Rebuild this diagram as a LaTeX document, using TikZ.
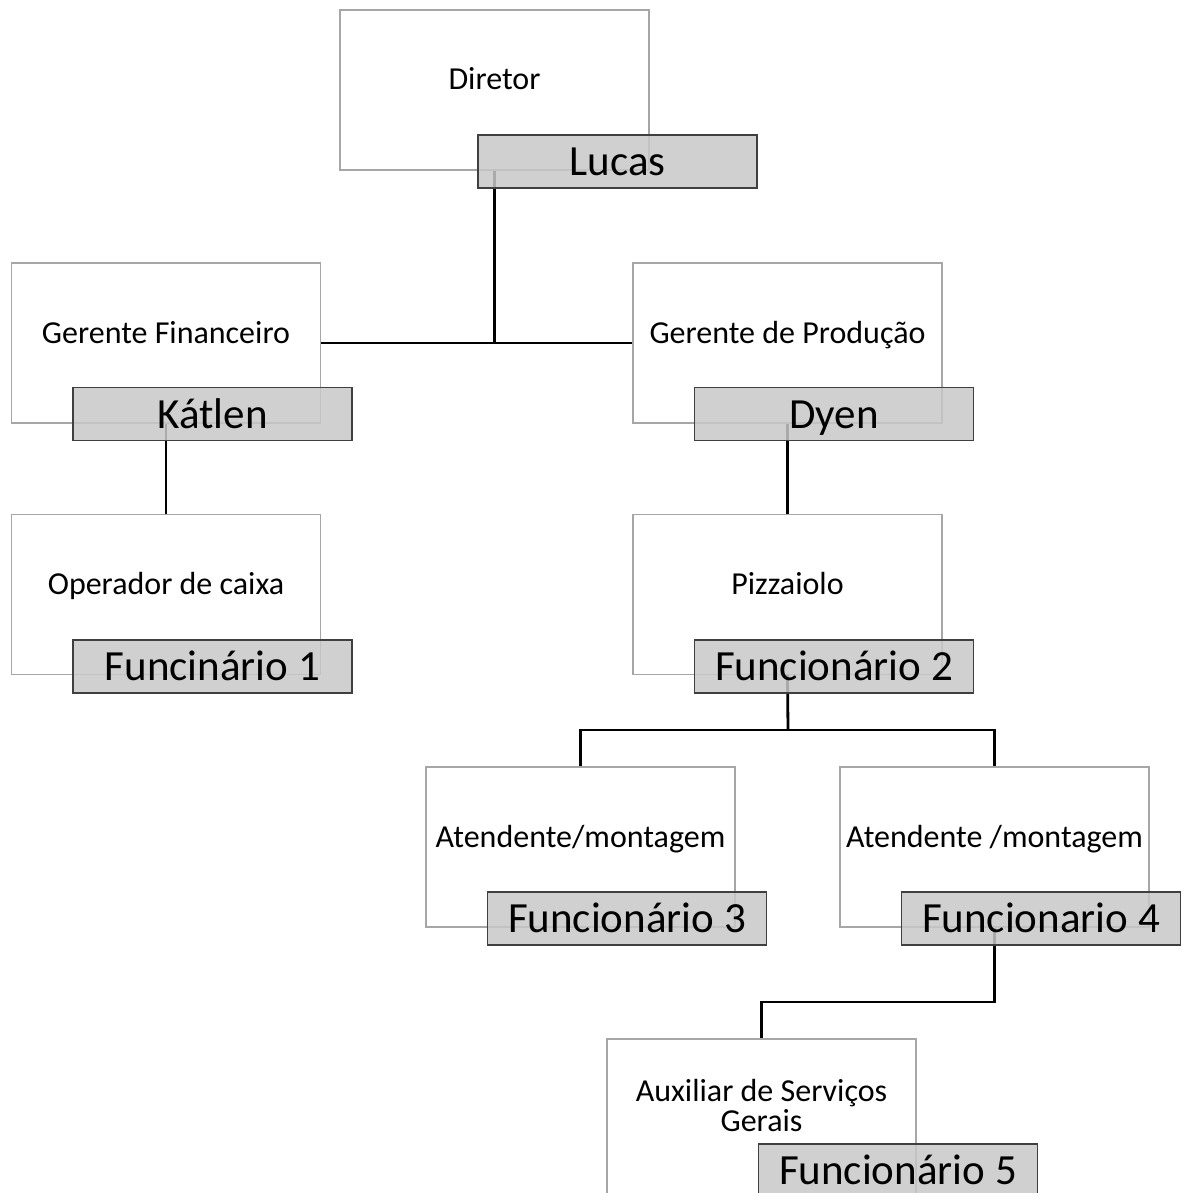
\documentclass[tikz,border=0pt]{standalone}
\usepackage{fontspec}
\setmainfont{Carlito}
\usepackage{tikz}

\definecolor{bordacargo}{HTML}{A6A6A6}
\definecolor{bordanome}{HTML}{3F3F3F}
\definecolor{fundonome}{HTML}{C8C8C8}

\begin{document}
\begin{tikzpicture}[x=1pt,y=-1pt,
  cargo/.style={draw=bordacargo, line width=1.1pt, fill=white,
    minimum width=309pt, minimum height=160pt, inner sep=0pt},
  rotulo/.style={font=\fontsize{32}{30}\selectfont, align=center,
    inner sep=0pt, text height=20pt, text depth=0pt, yshift=10pt},
  nome/.style={draw=bordanome, line width=1.3pt, fill=fundonome, fill opacity=0.85,
    text opacity=1, minimum width=279pt, minimum height=53pt, inner sep=0pt,
    text height=28pt, text depth=0pt, font=\fontsize{43}{50}\selectfont},
  conector/.style={line width=2.8pt, black}]
\useasboundingbox (0,0) rectangle (1183,1193);
\clip (0,0) rectangle (1183,1193);

% cargos
\node[cargo, label={[rotulo]center:Diretor}] (diretor) at (494.5,90) {};
\node[cargo, label={[rotulo]center:Gerente Financeiro}] (financeiro) at (166,343) {};
\node[cargo, label={[rotulo]center:Gerente de Produção}] (producao) at (787.5,343) {};
\node[cargo, label={[rotulo]center:Operador de caixa}] (caixa) at (166,594.5) {};
\node[cargo, label={[rotulo]center:Pizzaiolo}] (pizzaiolo) at (787.5,594.5) {};
\node[cargo, label={[rotulo]center:Atendente/montagem}] (atendA) at (580.5,847) {};
\node[cargo, label={[rotulo]center:Atendente /montagem}] (atendB) at (994.5,847) {};
\node[cargo, label={[rotulo, yshift=-12pt]center:Auxiliar de Serviços\\Gerais}] (auxiliar) at (761.5,1119) {};

% ligacoes
\coordinate (ramo) at (788,730);
\draw[conector] (diretor.south) -- (diretor.south |- financeiro.east);
\draw[conector] (financeiro.east) -- (producao.west);
\draw[conector] (financeiro.south) -- (caixa.north);
\draw[conector] (producao.south) -- (pizzaiolo.north);
\draw[conector] (pizzaiolo.south) -- (ramo);
\draw[conector] (atendA.north) |- (ramo) -| (atendB.north);
\draw[conector] (atendB.south) -- (atendB.south |- 0,1002) -| (auxiliar.north);

% nomes
\node[nome] (lucas) at (617.5,161.5) {Lucas};
\node[nome] (katlen) at (212.5,414) {Kátlen};
\node[nome] (dyen) at (834,414) {Dyen};
\node[nome] (func1) at (212.5,666.5) {Funcinário 1};
\node[nome] (func2) at (834,666.5) {Funcionário 2};
\node[nome] (func3) at (627,918.5) {Funcionário 3};
\node[nome] (func4) at (1041,918.5) {Funcionario 4};
\node[nome] (func5) at (898,1170.5) {Funcionário 5};
\end{tikzpicture}
\end{document}
